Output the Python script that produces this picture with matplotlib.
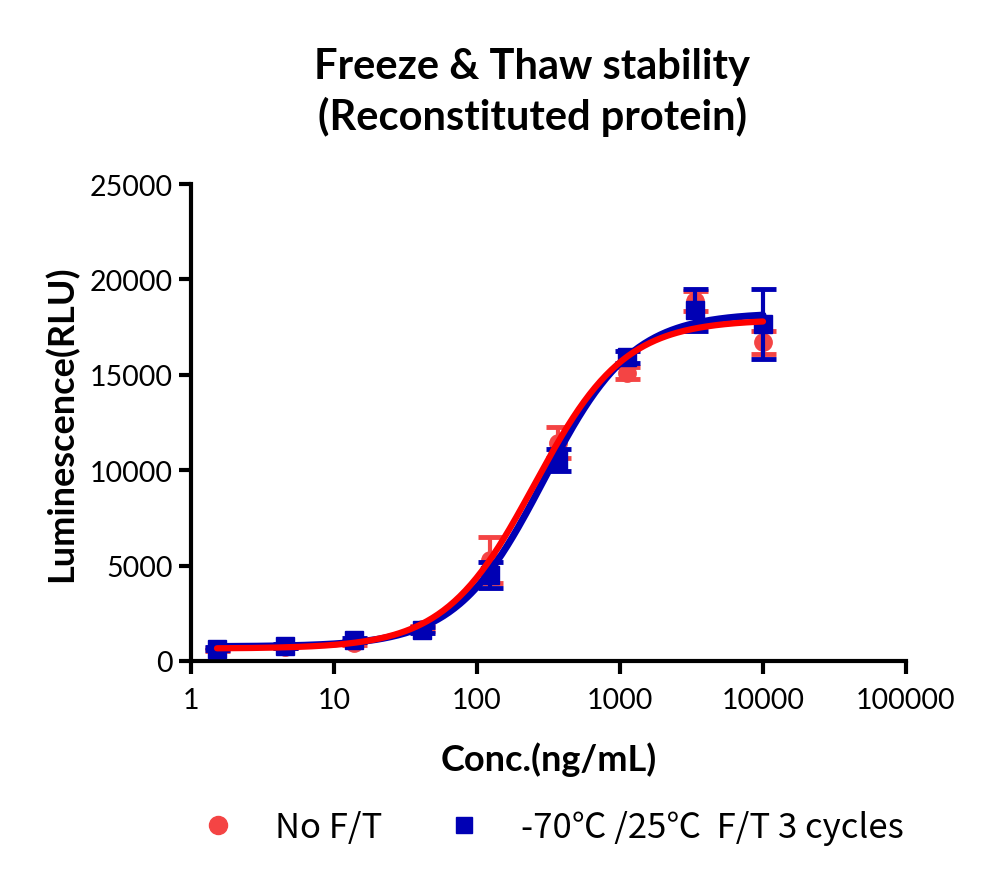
import numpy as np
import matplotlib
matplotlib.use("Agg")
import matplotlib.pyplot as plt
from matplotlib.lines import Line2D

# ---- data ----
conc = [1.52, 4.57, 13.7, 41.2, 123.5, 370.4, 1111.1, 3333.3, 10000.0]
red_mean = [620, 750, 950, 1700, 5300, 11450, 15100, 18870, 16700]
red_sd = [80, 90, 120, 150, 1200, 810, 300, 500, 600]
blue_mean = [630, 790, 1100, 1620, 4500, 10530, 15930, 18400, 17660]
blue_sd = [80, 90, 120, 150, 700, 580, 300, 1100, 1830]

# 4PL fit parameters (bottom, top, EC50, Hill)
red_fit = (650, 17900, 253, 1.384)
blue_fit = (750, 18250, 294, 1.413)

series_labels = ["No F/T", "-70\u2103 /25\u2103  F/T 3 cycles"]
title_text = "Freeze & Thaw stability\n(Reconstituted protein)"
xlabel_text = "Conc.(ng/mL)"
ylabel_text = "Luminescence(RLU)"
xticks = [1, 10, 100, 1000, 10000, 100000]
xtick_labels = ["1", "10", "100", "1000", "10000", "100000"]
yticks = [0, 5000, 10000, 15000, 20000, 25000]

RED_M = "#F44444"
RED_L = "#FF0000"
BLUE = "#0000B4"

FONT = ["Lato", "Noto Sans CJK SC", "DejaVu Sans"]
plt.rcParams["font.family"] = FONT


def fourpl(x, p):
    b, t, ec, h = p
    return b + (t - b) / (1 + (ec / x) ** h)


fig = plt.figure(figsize=(10, 8.87), dpi=100)
ax = fig.add_axes([0.191, 0.2537, 0.715, 0.5377])

ax.errorbar(conc, red_mean, yerr=red_sd, fmt="o", color=RED_M, ms=12.5,
            elinewidth=3, capsize=9, capthick=3.5, zorder=3)
ax.errorbar(conc, blue_mean, yerr=blue_sd, fmt="s", color=BLUE, ms=13.5,
            elinewidth=3, capsize=9, capthick=3.5, zorder=4)

xs = np.logspace(np.log10(conc[0]), np.log10(conc[-1]), 300)
ax.plot(xs, fourpl(xs, blue_fit), color=BLUE, lw=5, zorder=5, solid_capstyle="round")
ax.plot(xs, fourpl(xs, red_fit), color=RED_L, lw=4.5, zorder=6, solid_capstyle="round")

ax.set_xscale("log")
ax.set_xlim(1, 100000)
ax.set_ylim(0, 25000)
ax.set_xticks(xticks)
ax.set_xticklabels(xtick_labels)
ax.xaxis.set_minor_locator(matplotlib.ticker.NullLocator())
ax.set_yticks(yticks)
ax.set_yticklabels([str(v) for v in yticks])

for s in ["top", "right"]:
    ax.spines[s].set_visible(False)
for s in ["left", "bottom"]:
    ax.spines[s].set_linewidth(3)
ax.tick_params(axis="both", which="major", direction="out", length=9, width=3,
               labelsize=20.5, pad=4)
ax.tick_params(axis="x", pad=10)

ax.set_xlabel(xlabel_text, fontsize=26, fontweight="bold", labelpad=20)
ax.set_ylabel(ylabel_text, fontsize=26, fontweight="bold", labelpad=8)
fig.text(0.532, 0.896, title_text, ha="center", va="center", fontsize=30,
         fontweight="bold", linespacing=1.32)

handles = [
    Line2D([], [], marker="o", color=RED_M, ls="none", ms=13),
    Line2D([], [], marker="s", color=BLUE, ls="none", ms=11.5),
]
fig.legend(handles, series_labels, loc="center", bbox_to_anchor=(0.548, 0.066),
           ncol=2, frameon=False, handletextpad=0.9, columnspacing=1.6,
           handlelength=1.5,
           prop={"family": ["Noto Sans CJK SC", "DejaVu Sans"], "size": 25})

fig.savefig("out.png", dpi=100)
